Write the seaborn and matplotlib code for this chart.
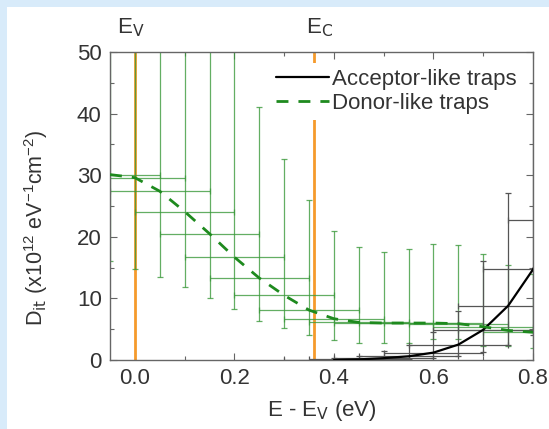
import numpy as np
import pandas as pd
import matplotlib
matplotlib.use("Agg")
import matplotlib.pyplot as plt
import matplotlib.patches as mpatches
import matplotlib.transforms as mtransforms
from matplotlib.ticker import MultipleLocator
import seaborn as sns

# ---------------- data ----------------
donor_x = [-0.05, 0.0, 0.05, 0.10, 0.15, 0.20, 0.25, 0.30, 0.35, 0.40,
           0.45, 0.50, 0.55, 0.60, 0.65, 0.70, 0.75, 0.80]
donor_y = [30.1, 29.6, 27.4, 24.1, 20.5, 16.7, 13.3, 10.5, 8.1, 6.7,
           6.1, 6.0, 6.0, 6.0, 5.9, 5.4, 4.8, 4.5]
donor_hi = [60, 60, 58, 56, 54, 52, 41.1, 32.6, 25.9, 21.0,
            18.4, 17.6, 18.0, 18.8, 18.6, 17.2, 15.5, 14.0]
donor_lo = [16.0, 14.8, 13.4, 11.9, 10.0, 8.3, 6.4, 5.2, 4.0, 3.2,
            2.8, 2.8, 2.7, 3.4, 3.4, 2.3, 2.2, 2.0]

acc_x = [0.40, 0.45, 0.50, 0.55, 0.60, 0.65, 0.70, 0.75, 0.80, 0.85]
acc_y = [0.0, 0.1, 0.3, 0.6, 1.2, 2.5, 4.9, 8.8, 14.7, 22.8]
acc_hi = [0.3, 0.6, 1.5, 2.5, 4.5, 8.0, 16.0, 27.1, 45.0, 70.0]
acc_lo = [0.0, 0.0, 0.05, 0.1, 0.3, 0.7, 1.3, 2.4, 4.0, 7.0]

x_err = 0.1
band_edges = [0.0, 0.36]
band_labels = [r"E$_\mathrm{V}$", r"E$_\mathrm{C}$"]
x_ticks = [0.0, 0.2, 0.4, 0.6, 0.8]
y_ticks = [0, 10, 20, 30, 40, 50]

# ---------------- style ----------------
sns.set_theme(style="ticks")
plt.rcParams["font.family"] = ["Liberation Sans", "DejaVu Sans"]
plt.rcParams["mathtext.default"] = "regular"
text_col = "#333333"
spine_col = "#666666"
green = "#3c9a3c"
green_dark = "#1e8a1e"
orange = "#f59a2c"

fig = plt.figure(figsize=(5.49, 4.29), dpi=100, facecolor="white")
fig.patches.append(mpatches.Rectangle((0, 1 - 7 / 429), 1, 7 / 429, transform=fig.transFigure,
                                      facecolor="#d8ebfa", edgecolor="none", zorder=0))
fig.patches.append(mpatches.Rectangle((0, 0), 7 / 549, 1, transform=fig.transFigure,
                                      facecolor="#d8ebfa", edgecolor="none", zorder=0))

ax = fig.add_axes([110 / 549, 1 - 360 / 429, (533 - 110) / 549, (360 - 52) / 429])
ax.set_facecolor("white")

for xe in band_edges:
    ax.axvline(xe, color=orange, lw=2.0, zorder=1)

dy = np.array(donor_y)
ax.errorbar(donor_x, donor_y, xerr=x_err,
            yerr=[dy - np.array(donor_lo), np.array(donor_hi) - dy],
            fmt="none", ecolor=green, elinewidth=0.9, capsize=2, capthick=0.9, zorder=2, alpha=0.8)
ay = np.array(acc_y)
ax.errorbar(acc_x, acc_y, xerr=x_err,
            yerr=[ay - np.array(acc_lo), np.array(acc_hi) - ay],
            fmt="none", ecolor="#555555", elinewidth=0.9, capsize=2, capthick=0.9, zorder=2)

df_d = pd.DataFrame({"x": donor_x, "y": donor_y})
df_a = pd.DataFrame({"x": acc_x, "y": acc_y})
sns.lineplot(data=df_a, x="x", y="y", ax=ax, color="black", lw=1.6,
             label="Acceptor-like traps", zorder=4, sort=False)
sns.lineplot(data=df_d, x="x", y="y", ax=ax, color=green_dark, lw=2.0,
             linestyle=(0, (4.3, 3.6)), label="Donor-like traps", zorder=4, sort=False)

ax.set_xlim(-0.05, 0.8)
ax.set_ylim(0, 50)
ax.set_xticks(x_ticks)
ax.set_yticks(y_ticks)
ax.xaxis.set_minor_locator(MultipleLocator(0.1))
ax.yaxis.set_minor_locator(MultipleLocator(5))
ax.tick_params(which="both", direction="in", top=True, right=True,
               colors=spine_col, labelcolor=text_col, labelsize=16, width=0.8)
ax.tick_params(which="major", length=5, pad=6)
ax.tick_params(which="minor", length=3)
ax.xaxis.set_major_formatter(matplotlib.ticker.FormatStrFormatter("%.1f"))
for s in ax.spines.values():
    s.set_color(spine_col)
    s.set_linewidth(1.0)

ax.set_xlabel(r"E - E$_\mathrm{V}$ (eV)", fontsize=16, color=text_col, labelpad=6)
ax.set_ylabel(r"D$_\mathrm{it}$ (x10$^{12}$ eV$^{-1}$cm$^{-2}$)", fontsize=15.5,
              color=text_col)
ax.yaxis.set_label_coords(-0.142, 0.43)

trans = mtransforms.blended_transform_factory(ax.transData, ax.transAxes)
ax.text(-0.008, 1.062, band_labels[0], transform=trans, ha="center", va="baseline",
        fontsize=16, color=text_col)
ax.text(0.372, 1.062, band_labels[1], transform=trans, ha="center", va="baseline",
        fontsize=16, color=text_col)

leg = ax.legend(loc="upper right", bbox_to_anchor=(1.0, 1.0), frameon=True,
                facecolor="white", edgecolor="none", framealpha=1.0, fontsize=16,
                handlelength=2.4, handletextpad=0.1, borderpad=0.25, labelspacing=0.15)
leg.set_zorder(5)
for t in leg.get_texts():
    t.set_color(text_col)

fig.savefig("out.png", dpi=100, facecolor=fig.get_facecolor())
